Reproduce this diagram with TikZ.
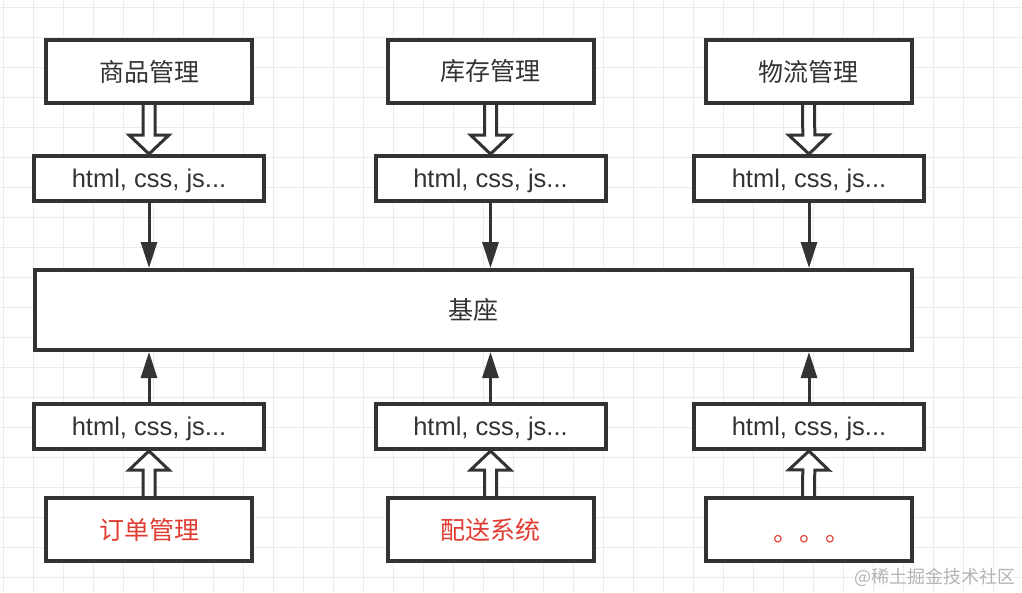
\documentclass[tikz,border=0pt]{standalone}
\usepackage{fontspec}
\setmainfont{Liberation Sans}
\newfontfamily\cjk{Noto Sans CJK SC}
\newfontfamily\lat{Liberation Sans}
\usetikzlibrary{arrows.meta,calc}
\pgfdeclarelayer{gridlayer}
\pgfdeclarelayer{arrowlayer}
\pgfsetlayers{gridlayer,arrowlayer,main}
\definecolor{ink}{HTML}{333333}
\definecolor{redtxt}{HTML}{E03C32}
\definecolor{gridc}{HTML}{EBEBEB}
\definecolor{wm}{HTML}{B4B4B4}
\tikzset{
  box/.style={draw=ink, line width=4pt, fill=white, inner sep=0pt, text=ink},
  modbox/.style={box, minimum width=206pt, minimum height=63pt, font=\cjk\fontsize{25}{25}\selectfont},
  redbox/.style={modbox, text=redtxt},
  techbox/.style={box, minimum width=230pt, minimum height=45pt, font=\lat\fontsize{25.5}{26}\selectfont},
  techtext/.style={inner sep=0pt, text=ink, font=\lat\fontsize{25.5}{26}\selectfont},
  basebox/.style={box, minimum width=877pt, minimum height=80pt, font=\cjk\fontsize{25}{25}\selectfont},
  solidarrow/.style={draw=ink, line width=3pt, -{Triangle[length=26pt,width=16pt]}},
  blockarrow/.style={draw=ink, line width=3pt, fill=white, line join=miter,
    to path={
      ($(\tikztostart)!6pt!90:(\tikztotarget)$) --
      ($($(\tikztotarget)!19pt!(\tikztostart)$)!6pt!-90:(\tikztostart)$) --
      ($($(\tikztotarget)!19pt!(\tikztostart)$)!20pt!-90:(\tikztostart)$) --
      (\tikztotarget) --
      ($($(\tikztotarget)!19pt!(\tikztostart)$)!20pt!90:(\tikztostart)$) --
      ($($(\tikztotarget)!19pt!(\tikztostart)$)!6pt!90:(\tikztostart)$) --
      ($(\tikztostart)!6pt!-90:(\tikztotarget)$)
    }},
}
\begin{document}
\begin{tikzpicture}[x=1pt,y=-1pt]
\useasboundingbox (0,0) rectangle (1022,592);
\begin{pgfonlayer}{gridlayer}
  \fill[white] (0,0) rectangle (1022,592);
  \foreach \i in {0,...,34} {\draw[gridc, line width=1pt] (3+30*\i,0) -- (3+30*\i,592);}
  \foreach \j in {0,...,19} {\draw[gridc, line width=1pt] (0,7+30*\j) -- (1022,7+30*\j);}
\end{pgfonlayer}

% top modules
\node[modbox] (m1) at (149,71.5) {商品管理};
\node[modbox] (m2) at (490.5,71.5) {库存管理};
\node[modbox] (m3) at (808.5,71.5) {物流管理};
% top tech boxes
\node[techbox] (h1) at (149,178.5) {};
\node[techbox] (h2) at (490.5,178.5) {};
\node[techbox] (h3) at (809,178.5) {};
\node[techtext] (h1t) at (149,181) {html, css, js...};
\node[techtext] (h2t) at (490.5,181) {html, css, js...};
\node[techtext] (h3t) at (809,181) {html, css, js...};
% base
\node[basebox] (base) at (473.5,310) {基座};
% bottom tech boxes
\node[techbox] (b1) at (149,426.5) {};
\node[techbox] (b2) at (490.5,426.5) {};
\node[techbox] (b3) at (809,426.5) {};
\node[techtext] (b1t) at (149,429) {html, css, js...};
\node[techtext] (b2t) at (490.5,429) {html, css, js...};
\node[techtext] (b3t) at (809,429) {html, css, js...};
% bottom modules
\node[redbox] (n1) at (149,529.5) {订单管理};
\node[redbox] (n2) at (490.5,529.5) {配送系统};
\node[modbox] (n3) at (808.5,529.5) {};
\node[font=\cjk\fontsize{25}{25}\selectfont, text=redtxt, inner sep=0pt] (dots) at (812,539) {。\hspace{1pt}。\hspace{1pt}。};

% watermark
\node[font=\cjk\fontsize{18}{18}\selectfont, text=wm, anchor=east, inner sep=0pt] (wmark) at (1016,577) {@稀土掘金技术社区};

\begin{pgfonlayer}{arrowlayer}
  \draw[blockarrow] (m1.south) to (h1.north);
  \draw[blockarrow] (m2.south) to (h2.north);
  \draw[blockarrow] (m3.south) to (h3.north);
  \draw[blockarrow] (n1.north) to (b1.south);
  \draw[blockarrow] (n2.north) to (b2.south);
  \draw[blockarrow] (n3.north) to (b3.south);
  \draw[solidarrow] (h1.south) -- (h1.south |- base.north);
  \draw[solidarrow] (h2.south) -- (h2.south |- base.north);
  \draw[solidarrow] (h3.south) -- (h3.south |- base.north);
  \draw[solidarrow] (b1.north) -- (b1.north |- base.south);
  \draw[solidarrow] (b2.north) -- (b2.north |- base.south);
  \draw[solidarrow] (b3.north) -- (b3.north |- base.south);
\end{pgfonlayer}
\end{tikzpicture}
\end{document}
